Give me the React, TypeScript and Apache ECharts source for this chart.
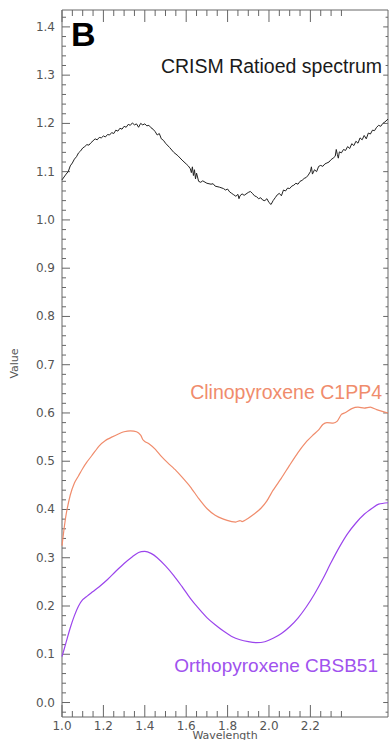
import React, { useEffect, useRef } from "react";
import * as echarts from "echarts";

// CRISM ratioed spectrum (wavelength, value)
const crismX = [1.0,1.02,1.03,1.04,1.05,1.06,1.07,1.08,1.09,1.1,1.11,1.12,1.13,1.14,1.15,1.16,1.17,1.18,1.19,1.2,1.21,1.22,1.23,1.24,1.25,1.26,1.27,1.28,1.29,1.3,1.31,1.32,1.33,1.34,1.35,1.36,1.37,1.38,1.39,1.4,1.41,1.42,1.43,1.44,1.45,1.46,1.47,1.48,1.49,1.5,1.52,1.54,1.56,1.58,1.6,1.61,1.62,1.625,1.63,1.635,1.64,1.645,1.65,1.66,1.67,1.68,1.7,1.72,1.73,1.74,1.76,1.78,1.79,1.8,1.81,1.82,1.83,1.84,1.85,1.855,1.86,1.87,1.88,1.9,1.91,1.92,1.93,1.94,1.95,1.96,1.97,1.98,1.99,2.0,2.01,2.02,2.03,2.04,2.05,2.06,2.07,2.08,2.09,2.1,2.11,2.12,2.13,2.14,2.15,2.16,2.17,2.18,2.19,2.2,2.205,2.21,2.22,2.23,2.24,2.25,2.26,2.27,2.28,2.29,2.3,2.31,2.32,2.325,2.33,2.335,2.34,2.35,2.36,2.37,2.38,2.39,2.4,2.41,2.42,2.43,2.44,2.45,2.46,2.47,2.48,2.49,2.5,2.51,2.52,2.53,2.54,2.55,2.56,2.575];
const crismY = [1.083,1.095,1.1,1.112,1.118,1.126,1.131,1.139,1.143,1.149,1.152,1.156,1.155,1.16,1.164,1.168,1.166,1.171,1.17,1.174,1.172,1.177,1.176,1.181,1.179,1.186,1.184,1.19,1.188,1.194,1.192,1.198,1.196,1.201,1.197,1.199,1.192,1.2,1.197,1.199,1.195,1.196,1.191,1.188,1.183,1.176,1.179,1.168,1.165,1.159,1.15,1.14,1.133,1.124,1.116,1.112,1.106,1.098,1.11,1.092,1.104,1.085,1.097,1.08,1.078,1.081,1.076,1.074,1.075,1.07,1.068,1.065,1.062,1.064,1.058,1.055,1.052,1.049,1.053,1.044,1.05,1.054,1.051,1.057,1.059,1.055,1.05,1.048,1.044,1.046,1.041,1.04,1.044,1.036,1.032,1.04,1.046,1.052,1.055,1.05,1.062,1.06,1.066,1.065,1.07,1.072,1.076,1.074,1.08,1.082,1.086,1.088,1.093,1.1,1.11,1.095,1.104,1.1,1.111,1.113,1.111,1.116,1.118,1.12,1.125,1.128,1.132,1.146,1.136,1.128,1.141,1.139,1.146,1.144,1.152,1.148,1.158,1.154,1.163,1.159,1.17,1.166,1.175,1.168,1.18,1.178,1.186,1.185,1.192,1.196,1.194,1.2,1.203,1.209];

// Clinopyroxene C1PP4
const clinoX = [1.0,1.01,1.02,1.04,1.06,1.08,1.1,1.12,1.15,1.18,1.21,1.24,1.27,1.3,1.33,1.36,1.38,1.39,1.4,1.42,1.45,1.48,1.51,1.55,1.58,1.62,1.66,1.7,1.74,1.78,1.82,1.84,1.86,1.87,1.9,1.93,1.96,1.99,2.02,2.06,2.1,2.14,2.18,2.21,2.24,2.26,2.28,2.31,2.33,2.35,2.37,2.4,2.43,2.46,2.49,2.52,2.575];
const clinoY = [0.325,0.36,0.39,0.43,0.455,0.47,0.485,0.498,0.515,0.532,0.543,0.55,0.556,0.561,0.563,0.561,0.554,0.545,0.541,0.536,0.525,0.51,0.497,0.481,0.467,0.447,0.423,0.402,0.388,0.38,0.375,0.374,0.377,0.375,0.382,0.391,0.402,0.418,0.44,0.465,0.492,0.518,0.54,0.553,0.565,0.576,0.58,0.579,0.583,0.597,0.601,0.609,0.612,0.61,0.612,0.607,0.6];

// Orthopyroxene CBSB51
const orthoX = [1.0,1.02,1.04,1.06,1.08,1.1,1.12,1.15,1.18,1.22,1.26,1.3,1.34,1.37,1.4,1.43,1.46,1.5,1.54,1.58,1.62,1.66,1.7,1.74,1.78,1.82,1.86,1.9,1.94,1.98,2.02,2.06,2.1,2.14,2.18,2.22,2.26,2.3,2.34,2.38,2.42,2.46,2.5,2.53,2.575];
const orthoY = [0.095,0.125,0.155,0.18,0.2,0.213,0.22,0.23,0.24,0.255,0.272,0.288,0.302,0.311,0.313,0.309,0.3,0.283,0.263,0.24,0.216,0.195,0.176,0.161,0.148,0.137,0.13,0.126,0.124,0.126,0.133,0.143,0.157,0.175,0.198,0.225,0.256,0.29,0.322,0.35,0.372,0.39,0.403,0.411,0.414];

// Axis extents and tick values
const X_MIN = 1.0;
const X_MAX = 2.575;
const Y_MIN = -0.03;
const Y_MAX = 1.435;
const xMajorTicks = [1.0, 1.2, 1.4, 1.6, 1.8, 2.0, 2.2];
const xMinorTicks = [1.05,1.1,1.15,1.25,1.3,1.35,1.45,1.5,1.55,1.65,1.7,1.75,1.85,1.9,1.95,2.05,2.1,2.15,2.25,2.3,2.35];
const yMajorTicks = [0,0.1,0.2,0.3,0.4,0.5,0.6,0.7,0.8,0.9,1.0,1.1,1.2,1.3,1.4];
const yMinorTicks: number[] = [];
for (let i = -1; i <= 71; i++) {
  if (i % 5 !== 0) yMinorTicks.push(Math.round(i * 2) / 100);
}

const zip = (xs: number[], ys: number[]) => xs.map((x, i) => [x, ys[i]]);

export default function App() {
  const ref = useRef<HTMLDivElement>(null);
  useEffect(() => {
    if (!ref.current) return;
    const chart = echarts.init(ref.current, null, { renderer: "svg" });

    // tick descriptors: [kind, value, length]; kind 0 = x (bottom+top), 1 = y (left+right)
    const tickData: number[][] = [];
    xMajorTicks.forEach((v) => tickData.push([0, v, 12]));
    xMinorTicks.forEach((v) => tickData.push([0, v, 6]));
    yMajorTicks.forEach((v) => tickData.push([1, v, 8]));
    yMinorTicks.forEach((v) => tickData.push([1, v, 4]));

    const axisColor = "#666";
    const labelColor = "#555";

    chart.setOption({
      animation: false,
      backgroundColor: "#fff",
      grid: {
        left: 62,
        top: 10,
        right: 1,
        bottom: 23,
        outerBoundsMode: "none",
        containLabel: false,
        show: true,
        borderColor: axisColor,
        borderWidth: 1,
        backgroundColor: "transparent",
      },
      xAxis: {
        type: "value",
        min: X_MIN,
        max: X_MAX,
        interval: 0.2,
        axisLine: { show: false },
        axisTick: { show: false },
        splitLine: { show: false },
        axisLabel: {
          margin: 3,
          color: labelColor,
          fontFamily: "DejaVu Sans",
          fontSize: 12,
          lineHeight: 11,
          showMaxLabel: false,
          formatter: (v: number) => (v <= 2.25 ? v.toFixed(1) : ""),
        },
        name: "Wavelength",
        nameLocation: "middle",
        nameGap: 14,
        nameMoveOverlap: false,
        nameTextStyle: { color: labelColor, fontFamily: "DejaVu Sans", fontSize: 11, lineHeight: 9 },
      },
      yAxis: {
        type: "value",
        min: Y_MIN,
        max: Y_MAX,
        splitNumber: 14,
        axisLine: { show: false },
        axisTick: { show: false },
        splitLine: { show: false },
        axisLabel: {
          margin: 7,
          color: labelColor,
          fontFamily: "DejaVu Sans",
          fontSize: 12,
          showMinLabel: false,
          showMaxLabel: false,
          formatter: (v: number) => {
            const k = v * 10;
            if (Math.abs(k - Math.round(k)) > 1e-6 || v < -0.001 || v > 1.401) return "";
            return v.toFixed(1);
          },
        },
        name: "Value",
        nameLocation: "middle",
        nameGap: 42,
        nameMoveOverlap: false,
        nameTextStyle: { color: labelColor, fontFamily: "DejaVu Sans", fontSize: 11 },
      },
      series: [
        {
          type: "custom",
          silent: true,
          clip: false,
          data: tickData,
          renderItem: (params: any, api: any) => {
            const kind = api.value(0);
            const v = api.value(1);
            const len = api.value(2);
            const style = { stroke: axisColor, lineWidth: 1 };
            if (kind === 0) {
              const b = api.coord([v, Y_MIN]);
              const t = api.coord([v, Y_MAX]);
              return {
                type: "group",
                children: [
                  { type: "line", shape: { x1: b[0], y1: b[1], x2: b[0], y2: b[1] - len }, style },
                  { type: "line", shape: { x1: t[0], y1: t[1], x2: t[0], y2: t[1] + len }, style },
                ],
              };
            }
            const l = api.coord([X_MIN, v]);
            const r = api.coord([X_MAX, v]);
            return {
              type: "group",
              children: [
                { type: "line", shape: { x1: l[0], y1: l[1], x2: l[0] + len, y2: l[1] }, style },
                { type: "line", shape: { x1: r[0], y1: r[1], x2: r[0] - len * 0.6, y2: r[1] }, style },
              ],
            };
          },
        },
        {
          name: "CRISM Ratioed spectrum",
          type: "line",
          data: zip(crismX, crismY),
          showSymbol: false,
          lineStyle: { color: "#222", width: 1 },
        },
        {
          name: "Clinopyroxene C1PP4",
          type: "line",
          data: zip(clinoX, clinoY),
          showSymbol: false,
          smooth: 0.2,
          lineStyle: { color: "#f08c6c", width: 1.2 },
        },
        {
          name: "Orthopyroxene CBSB51",
          type: "line",
          data: zip(orthoX, orthoY),
          showSymbol: false,
          smooth: 0.3,
          lineStyle: { color: "#9b45ec", width: 1.2 },
        },
      ],
      graphic: [
        {
          type: "text",
          left: 71,
          top: 17,
          style: { text: "B", font: "bold 34px 'Liberation Sans', Arial, sans-serif", fill: "#000" },
        },
        {
          type: "text",
          x: 382,
          y: 66,
          style: {
            text: "CRISM Ratioed spectrum",
            font: "19.5px 'Liberation Sans', Arial, sans-serif",
            fill: "#1a1a1a",
            align: "right",
            verticalAlign: "middle",
          },
        },
        {
          type: "text",
          x: 382,
          y: 392,
          style: {
            text: "Clinopyroxene C1PP4",
            font: "19.5px 'Liberation Sans', Arial, sans-serif",
            fill: "#f08c6c",
            align: "right",
            verticalAlign: "middle",
          },
        },
        {
          type: "text",
          x: 378,
          y: 665,
          style: {
            text: "Orthopyroxene CBSB51",
            font: "19px 'Liberation Sans', Arial, sans-serif",
            fill: "#a052ee",
            align: "right",
            verticalAlign: "middle",
          },
        },
      ],
    });
    return () => chart.dispose();
  }, []);
  return (
    <div
      ref={ref}
      style={{ position: "absolute", left: 0, top: 0, width: 389, height: 740, background: "#fff" }}
    />
  );
}
